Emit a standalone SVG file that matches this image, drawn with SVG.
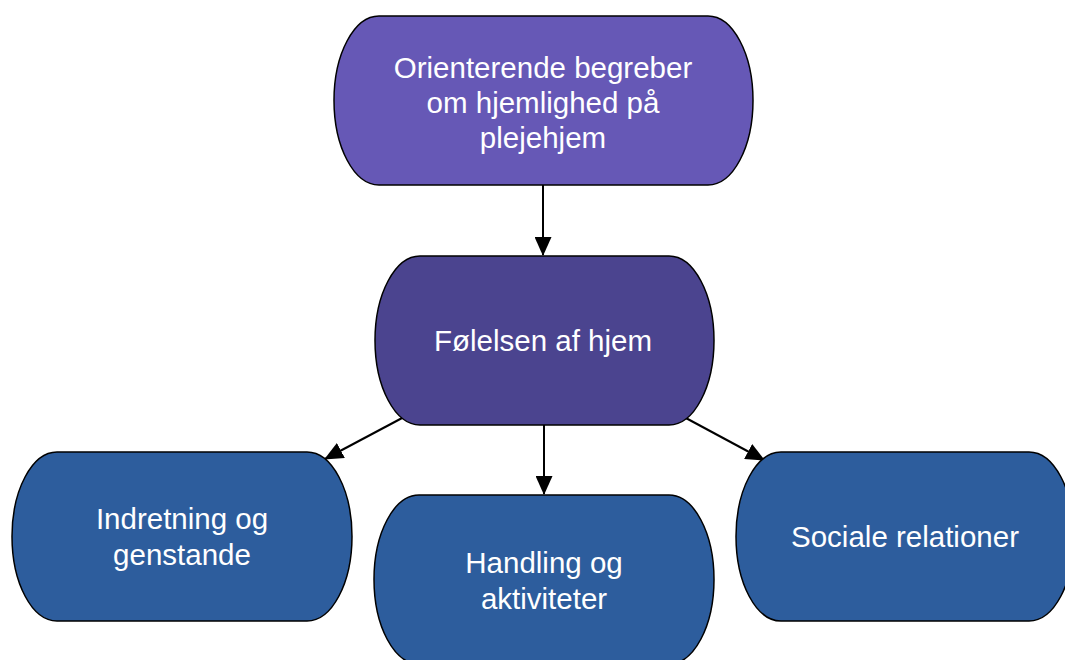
<svg xmlns="http://www.w3.org/2000/svg" width="1065" height="660" viewBox="0 0 1065 660">
<defs>
<style>
.node{stroke:#000;stroke-width:1.5}
.lbl{font-family:"Liberation Sans",Arial,Helvetica,sans-serif;font-size:29.5px;fill:#fff;text-anchor:middle}
.edge{stroke:#000;stroke-width:2;fill:none}
</style>
<marker id="arr" markerUnits="userSpaceOnUse" markerWidth="19" markerHeight="17" refX="18" refY="8.5" orient="auto">
<path d="M0,0 L19,8.5 L0,17 Z" fill="#000"/>
</marker>
</defs>
<rect width="1065" height="660" fill="#fff"/>
<g id="connectors">
<line class="edge" x1="543" y1="185" x2="543" y2="255" marker-end="url(#arr)"/>
<line class="edge" x1="544" y1="425" x2="544" y2="494" marker-end="url(#arr)"/>
<line class="edge" x1="404" y1="417" x2="325" y2="459" marker-end="url(#arr)"/>
<line class="edge" x1="684" y1="417" x2="764" y2="460" marker-end="url(#arr)"/>
</g>
<g id="node-top">
<rect class="node" x="334" y="16" width="419" height="169" rx="45" ry="84.5" fill="#6658b6"/>
<text class="lbl" x="543" y="78">Orienterende begreber</text>
<text class="lbl" x="543" y="113">om hjemlighed på</text>
<text class="lbl" x="543" y="148">plejehjem</text>
</g>
<g id="node-mid">
<rect class="node" x="375" y="256" width="339" height="169" rx="45" ry="84.5" fill="#4b448f"/>
<text class="lbl" x="543" y="351">Følelsen af hjem</text>
</g>
<g id="node-left">
<rect class="node" x="12" y="452" width="340" height="169" rx="45" ry="84.5" fill="#2d5d9d"/>
<text class="lbl" x="182" y="529">Indretning og</text>
<text class="lbl" x="182" y="565">genstande</text>
</g>
<g id="node-center">
<rect class="node" x="374" y="495" width="340" height="169" rx="45" ry="84.5" fill="#2d5d9d"/>
<text class="lbl" x="544" y="573">Handling og</text>
<text class="lbl" x="544" y="609">aktiviteter</text>
</g>
<g id="node-right">
<rect class="node" x="736" y="452" width="338" height="169" rx="45" ry="84.5" fill="#2d5d9d"/>
<text class="lbl" x="905" y="547">Sociale relationer</text>
</g>
</svg>
